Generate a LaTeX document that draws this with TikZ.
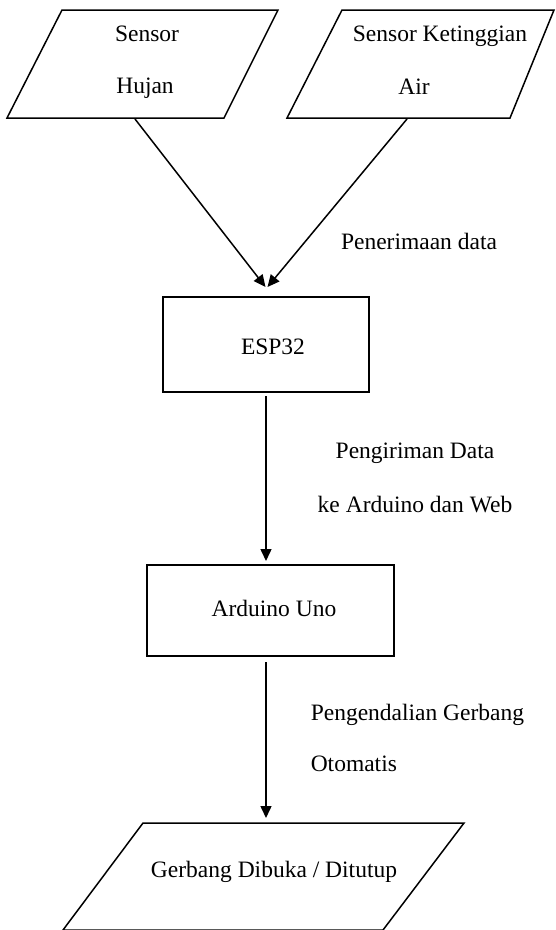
\documentclass[tikz,border=0pt]{standalone}
\usepackage{fontspec}
\setmainfont{Liberation Serif}
\usetikzlibrary{arrows.meta}
\begin{document}
\begin{tikzpicture}[x=1pt,y=-1pt,
  line width=1.5pt,
  shapeline/.style={draw=black,line width=1.5pt,line join=miter},
  lbl/.style={inner sep=0pt,anchor=base,font=\fontsize{23.5}{28}\selectfont},
  lblw/.style={inner sep=0pt,anchor=base west,font=\fontsize{23.5}{28}\selectfont},
  boxnode/.style={draw=black,line width=1.5pt,inner sep=0pt},
  arr/.style={-{Triangle[length=12pt,width=11pt]},line width=1.5pt}
]
\useasboundingbox (0,0) rectangle (555,930);
\clip (0,0) rectangle (555,930);

% top-left parallelogram
\draw[shapeline] (62,10) -- (278,10) -- (224,118) -- (7,118) -- cycle;
\node[lbl] (t1a) at (147,41) {Sensor};
\node[lbl] (t1b) at (145,93) {Hujan};
\coordinate (p1out) at (135,119);

% top-right parallelogram
\draw[shapeline] (342,10) -- (554,10) -- (510,118) -- (287,118) -- cycle;
\node[lbl] (t2a) at (440,41) {Sensor Ketinggian};
\node[lbl] (t2b) at (414,94) {Air};
\coordinate (p2out) at (407,119);

% ESP32
\node[boxnode,minimum width=206pt,minimum height=95pt] (esp) at (266,344.5) {};
\node[lbl] (esptxt) at (273,354) {ESP32};
\coordinate (espinL) at (265.5,287);
\coordinate (espinR) at (267.5,287);

\draw[arr] (p1out) -- (espinL);
\draw[arr] (p2out) -- (espinR);
\node[lbl] (lab1) at (419,249) {Penerimaan data};

% Arduino
\node[boxnode,minimum width=247pt,minimum height=91pt] (ard) at (270.5,610.5) {};
\node[lbl] (ardtxt) at (274,616) {Arduino Uno};
\coordinate (espout) at (266,396);
\coordinate (ardin) at (266,561);
\draw[arr] (espout) -- (ardin);
\node[lbl] (lab2a) at (415,458) {Pengiriman Data};
\node[lbl] (lab2b) at (415,512) {ke Arduino dan Web};

% Gate parallelogram
\draw[shapeline] (143,823) -- (464,823) -- (383,930) -- (63,930) -- cycle;
\node[lbl] (gtxt) at (274,877) {Gerbang Dibuka / Ditutup};
\coordinate (ardout) at (266,662);
\coordinate (gin) at (266,818);
\draw[arr] (ardout) -- (gin);
\node[lblw] (lab3a) at (310,720) {Pengendalian Gerbang};
\node[lblw] (lab3b) at (310,771) {Otomatis};
\end{tikzpicture}
\end{document}
